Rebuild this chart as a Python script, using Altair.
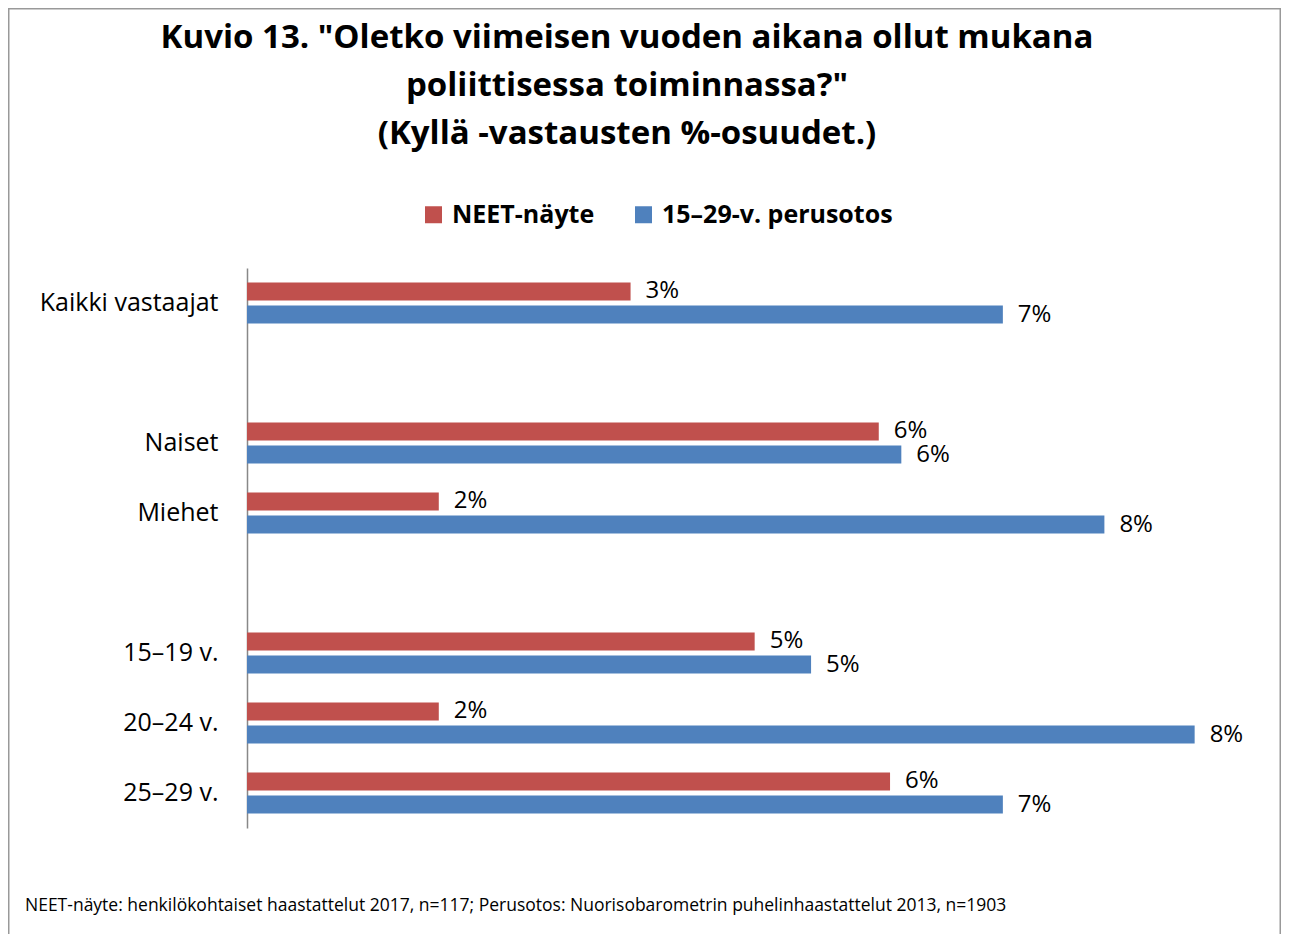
import altair as alt
import pandas as pd

categories = ["Kaikki vastaajat", " ", "Naiset", "Miehet", "  ", "15–19 v.", "20–24 v.", "25–29 v."]
series = ["NEET-näyte", "15–29-v. perusotos"]
colors = ["#C0504D", "#4F81BD"]

row_cats = ["Kaikki vastaajat", "Naiset", "Miehet", "15–19 v.", "20–24 v.", "25–29 v."]
neet_values = [3.4, 5.6, 1.7, 4.5, 1.7, 5.7]
base_values = [6.7, 5.8, 7.6, 5.0, 8.4, 6.7]
neet_labels = ["3%", "6%", "2%", "5%", "2%", "6%"]
base_labels = ["7%", "6%", "8%", "5%", "8%", "7%"]

title_lines = ['Kuvio 13. "Oletko viimeisen vuoden aikana ollut mukana',
               'poliittisessa toiminnassa?"',
               '(Kyllä -vastausten %-osuudet.)']
footnote = "NEET-näyte: henkilökohtaiset haastattelut 2017,  n=117; Perusotos: Nuorisobarometrin puhelinhaastattelut 2013, n=1903"

rows = []
for c, v, l in zip(row_cats, neet_values, neet_labels):
    rows.append({"cat": c, "series": series[0], "value": v, "label": l})
for c, v, l in zip(row_cats, base_values, base_labels):
    rows.append({"cat": c, "series": series[1], "value": v, "label": l})
df = pd.DataFrame(rows)

FONT = "Open Sans"
W, H = 1030, 560
PL, PT, PR, PB = 239, 260, 4, 106

y_enc = alt.Y("cat:N", scale=alt.Scale(domain=categories, paddingInner=0, paddingOuter=0),
              axis=alt.Axis(title=None, ticks=False, domainColor="#888888", domainWidth=1.5,
                            labelFontSize=25, labelColor="black", labelFont=FONT,
                            labelPadding=29, labelLimit=300))
yoff = alt.YOffset("series:N", scale=alt.Scale(domain=series, paddingInner=0.217, paddingOuter=0.63))
x_enc = alt.X("value:Q", scale=alt.Scale(domain=[0, 9.13], nice=False), axis=None)

bars = alt.Chart(df).mark_bar().encode(
    y=y_enc, yOffset=yoff, x=x_enc,
    color=alt.Color("series:N", scale=alt.Scale(domain=series, range=colors),
                    legend=alt.Legend(title=None, orient="none", direction="horizontal",
                                      legendX=174, legendY=-66, symbolType="square",
                                      symbolSize=289, symbolStrokeWidth=0,
                                      labelFontSize=25, labelFontWeight="bold",
                                      labelFont=FONT, labelColor="black", labelLimit=400,
                                      columnPadding=36, labelOffset=6, padding=0)),
)

labels = alt.Chart(df).mark_text(align="left", baseline="middle", dx=15, fontSize=24,
                                 font=FONT, color="black").encode(
    y=alt.Y("cat:N", scale=alt.Scale(domain=categories, paddingInner=0, paddingOuter=0)),
    yOffset=yoff, x=x_enc, text="label:N")

foot = alt.Chart(pd.DataFrame({"t": [footnote]})).mark_text(
    align="left", baseline="middle", fontSize=17.5, font=FONT, color="black").encode(
    x=alt.value(25 - 8 - PL), y=alt.value(906 - 8 - PT), text="t:N")

border = alt.Chart(pd.DataFrame({"a": [0]})).mark_rect(
    fill=None, stroke="#999999", strokeWidth=1.5).encode(
    x=alt.value(-PL + 0.75), x2=alt.value(W + PR - 0.75),
    y=alt.value(-PT + 0.75), y2=alt.value(H + PB + 20))

chart = alt.layer(border, bars, labels, foot).properties(
    width=W, height=H,
    autosize=alt.AutoSizeParams(type="none"),
    padding={"left": PL, "top": PT, "right": PR, "bottom": PB},
    title=alt.TitleParams(title_lines, anchor="middle", frame="group", dx=-135,
                          fontSize=33, font=FONT, fontWeight="bold", color="black",
                          lineHeight=48, offset=-143),
).configure_view(stroke=None)

chart.save("out.html", embed_options={"renderer": "svg", "actions": False})
